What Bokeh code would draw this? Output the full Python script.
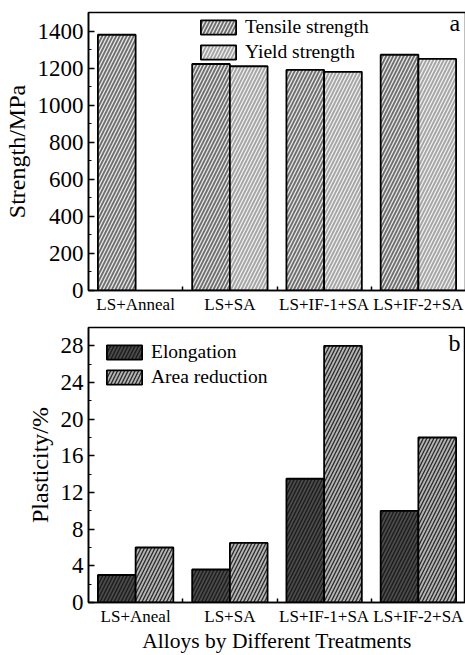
from bokeh.plotting import figure
from bokeh.models import (Range1d, LinearAxis, SingleIntervalTicker, FixedTicker,
                          Legend, LegendItem, Label)
from bokeh.layouts import column
from bokeh.embed import file_html
from bokeh.resources import INLINE

# ---------------- data ----------------
cats_a = ["LS+Anneal", "LS+SA", "LS+IF-1+SA", "LS+IF-2+SA"]
tensile = [1380, 1222, 1190, 1272]
yield_s = [None, 1210, 1180, 1250]

cats_b = ["LS+Aneal", "LS+SA", "LS+IF-1+SA", "LS+IF-2+SA"]
elongation = [3.0, 3.6, 13.5, 10.0]
area_red = [6.0, 6.5, 28.0, 18.0]

FONT = "Liberation Serif"
BAR_W = 0.4


def style_panel(p, cats, ymax, yint, ylabel):
    n = len(cats)
    centers = [i + 0.5 for i in range(n)]
    bounds = [float(i) for i in range(1, n)]
    p.x_range = Range1d(0, n)
    p.y_range = Range1d(0, ymax)

    ax = LinearAxis(ticker=SingleIntervalTicker(interval=yint, num_minor_ticks=2))
    ax.axis_label = ylabel
    ax.axis_label_text_font = FONT
    ax.axis_label_text_font_size = "24px"
    ax.axis_label_text_font_style = "normal"
    ax.axis_label_text_color = "black"
    ax.axis_label_standoff = 5
    ax.major_label_text_font = FONT
    ax.major_label_text_font_size = "23px"
    ax.major_label_text_color = "black"
    ax.major_label_standoff = 5
    ax.major_tick_in = 6
    ax.major_tick_out = 0
    ax.minor_tick_in = 3
    ax.minor_tick_out = 0
    ax.axis_line_width = 1.6
    ax.major_tick_line_width = 1.5
    ax.minor_tick_line_width = 1.2
    ax.axis_line_color = "black"
    ax.major_tick_line_color = "black"
    ax.minor_tick_line_color = "black"
    p.add_layout(ax, "left")

    # x axis: labels at category centres, small ticks at category boundaries
    cax = LinearAxis(ticker=FixedTicker(ticks=centers, minor_ticks=bounds))
    cax.major_label_overrides = {c: lab for c, lab in zip(centers, cats)}
    cax.axis_line_color = "black"
    cax.axis_line_width = 1.6
    cax.major_tick_line_color = None
    cax.major_tick_in = 0
    cax.major_tick_out = 0
    cax.minor_tick_line_color = "black"
    cax.minor_tick_line_width = 1.5
    cax.minor_tick_in = 4
    cax.minor_tick_out = 0
    cax.major_label_text_font = FONT
    cax.major_label_text_font_size = "17px"
    cax.major_label_text_color = "black"
    cax.major_label_standoff = 4
    p.add_layout(cax, "below")

    p.grid.visible = False
    p.outline_line_color = "black"
    p.outline_line_width = 1.5
    p.outline_line_alpha = 1
    return cax, centers


# ---------------- panel a ----------------
p1 = figure(frame_width=377, frame_height=278,
            min_border_left=87, min_border_right=1, min_border_top=12, min_border_bottom=30,
            output_backend="svg", toolbar_location=None,
            x_axis_location=None, y_axis_location=None)
_, cen_a = style_panel(p1, cats_a, 1500, 200, "Strength/MPa")

src_a = dict(xt=[c - BAR_W / 2 for c in cen_a], xy=[c + BAR_W / 2 for c in cen_a],
             t=tensile, y=[v if v is not None else float("nan") for v in yield_s])
r_t = p1.vbar(x="xt", top="t", width=BAR_W, source=src_a,
              fill_color="#6e6e6e", line_color="black", line_width=1.8,
              hatch_pattern="/", hatch_color="#e8e8e8", hatch_scale=7, hatch_weight=1.3)
r_y = p1.vbar(x="xy", top="y", width=BAR_W, source=src_a,
              fill_color="#a4a4a4", line_color="black", line_width=1.8,
              hatch_pattern="/", hatch_color="#f0f0f0", hatch_scale=7, hatch_weight=1.3)

leg1 = Legend(items=[LegendItem(label="Tensile strength", renderers=[r_t]),
                     LegendItem(label="Yield strength", renderers=[r_y])],
              location=(108, 227), orientation="vertical")
p1.add_layout(leg1, "center")

p1.add_layout(Label(x=361, y=255, x_units="screen", y_units="screen", text="a",
                    text_font=FONT, text_font_size="24px", text_color="black"))

# ---------------- panel b ----------------
p2 = figure(frame_width=377, frame_height=275,
            min_border_left=87, min_border_right=1, min_border_top=7, min_border_bottom=48,
            output_backend="svg", toolbar_location=None,
            x_axis_location=None, y_axis_location=None)
cax2, cen_b = style_panel(p2, cats_b, 30, 4, "Plasticity/%")
cax2.axis_label = "Alloys by Different Treatments"
cax2.axis_label_text_font = FONT
cax2.axis_label_text_font_size = "21.5px"
cax2.axis_label_text_font_style = "normal"
cax2.axis_label_text_color = "black"
cax2.axis_label_standoff = 0

src_b = dict(xe=[c - BAR_W / 2 for c in cen_b], xa=[c + BAR_W / 2 for c in cen_b],
             e=elongation, a=area_red)
r_e = p2.vbar(x="xe", top="e", width=BAR_W, source=src_b,
              fill_color="#4a4a4a", line_color="black", line_width=1.8,
              hatch_pattern="/", hatch_color="#1a1a1a", hatch_scale=7, hatch_weight=1.3)
r_a = p2.vbar(x="xa", top="a", width=BAR_W, source=src_b,
              fill_color="#b4b4b4", line_color="black", line_width=1.8,
              hatch_pattern="/", hatch_color="#2a2a2a", hatch_scale=7, hatch_weight=1.3)

leg2 = Legend(items=[LegendItem(label="Elongation", renderers=[r_e]),
                     LegendItem(label="Area reduction", renderers=[r_a])],
              location=(14, 214), orientation="vertical")
p2.add_layout(leg2, "center")

p2.add_layout(Label(x=360, y=247, x_units="screen", y_units="screen", text="b",
                    text_font=FONT, text_font_size="24px", text_color="black"))

for lg in (leg1, leg2):
    lg.padding = 0
    lg.margin = 0
    lg.spacing = 3
    lg.border_line_color = None
    lg.background_fill_alpha = 0
    lg.glyph_width = 44
    lg.glyph_height = 18
    lg.label_height = 18
    lg.label_standoff = 5
    lg.label_text_font = FONT
    lg.label_text_font_size = "19.5px"
    lg.label_text_color = "black"
    lg.label_text_baseline = "middle"

layout = column(p1, p2, spacing=0)
open("out.html", "w").write(file_html(layout, INLINE))
